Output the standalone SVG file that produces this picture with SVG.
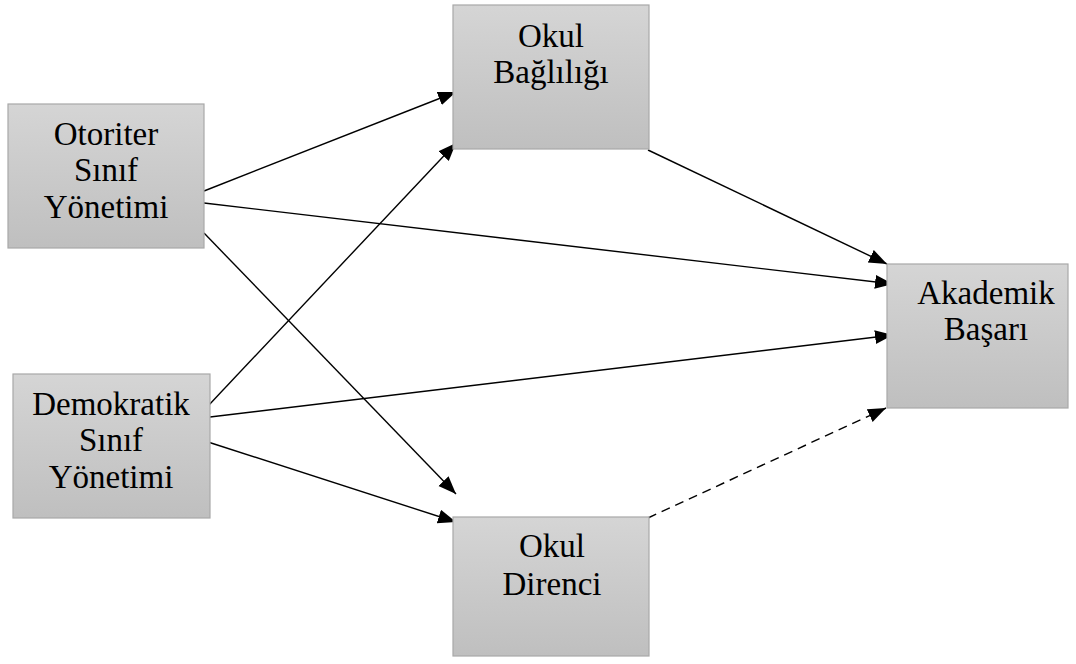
<svg xmlns="http://www.w3.org/2000/svg" width="1076" height="664" viewBox="0 0 1076 664">
  <defs>
    <linearGradient id="boxFill" x1="0" y1="0" x2="0" y2="1">
      <stop offset="0" stop-color="#d5d5d5"/>
      <stop offset="1" stop-color="#bfbfbf"/>
    </linearGradient>
    <marker id="arrow" markerUnits="userSpaceOnUse" markerWidth="20" markerHeight="16" refX="18" refY="7" orient="auto">
      <path d="M0,0 L18,7 L0,14 z" fill="#000"/>
    </marker>
    <style>
      .box { fill: url(#boxFill); stroke: #a8a8a8; stroke-width: 1.2; }
      .label { font-family: "Liberation Serif", "Times New Roman", serif; font-size: 33px; fill: #000; text-anchor: middle; }
      .edge { stroke: #000; stroke-width: 1.4; fill: none; marker-end: url(#arrow); }
      .dashed { stroke-dasharray: 9 6; }
    </style>
  </defs>

  <rect width="1076" height="664" fill="#fff"/>

  <!-- connectors -->
  <g id="connectors">
    <line class="edge" x1="204" y1="191" x2="456" y2="92"/>
    <line class="edge" x1="204" y1="203" x2="893" y2="284"/>
    <line class="edge" x1="204" y1="233" x2="456" y2="494"/>
    <line class="edge" x1="208" y1="406" x2="456" y2="143"/>
    <line class="edge" x1="210" y1="417" x2="893" y2="335"/>
    <line class="edge" x1="208" y1="442" x2="456" y2="522"/>
    <line class="edge" x1="648" y1="150" x2="887" y2="264"/>
    <line class="edge dashed" x1="648" y1="518" x2="886" y2="408"/>
  </g>

  <!-- nodes -->
  <g id="otoriter">
    <rect class="box" x="8" y="104" width="196" height="144"/>
    <text class="label" x="106" y="145">Otoriter</text>
    <text class="label" x="106" y="181">Sınıf</text>
    <text class="label" x="106" y="218">Yönetimi</text>
  </g>

  <g id="demokratik">
    <rect class="box" x="13" y="374" width="197" height="144"/>
    <text class="label" x="111" y="415">Demokratik</text>
    <text class="label" x="111" y="451">Sınıf</text>
    <text class="label" x="111" y="488">Yönetimi</text>
  </g>

  <g id="okul-bagliligi">
    <rect class="box" x="453" y="5" width="196" height="144"/>
    <text class="label" x="551" y="47">Okul</text>
    <text class="label" x="551" y="83">Bağlılığı</text>
  </g>

  <g id="okul-direnci">
    <rect class="box" x="453" y="517" width="196" height="139"/>
    <text class="label" x="552" y="557">Okul</text>
    <text class="label" x="552" y="595">Direnci</text>
  </g>

  <g id="akademik-basari">
    <rect class="box" x="887" y="264" width="181" height="144"/>
    <text class="label" x="986" y="304">Akademik</text>
    <text class="label" x="986" y="340">Başarı</text>
  </g>
</svg>
